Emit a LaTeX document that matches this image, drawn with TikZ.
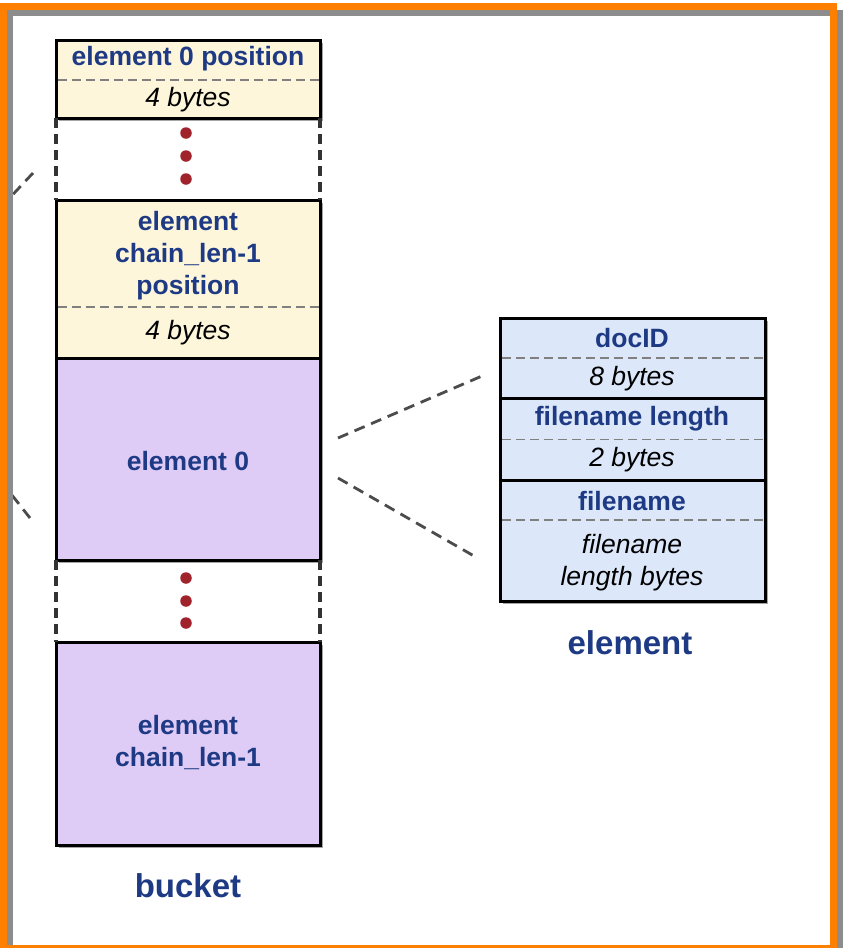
\documentclass[tikz,border=0pt]{standalone}
\usepackage{fontspec}
\setmainfont{Liberation Sans}
\usetikzlibrary{calc,shadows}
\definecolor{navy}{HTML}{1E3A84}
\definecolor{frameorange}{HTML}{FF7F00}
\definecolor{cream}{HTML}{FDF6DA}
\definecolor{lilac}{HTML}{DECCF6}
\definecolor{paleblue}{HTML}{DCE8FA}
\definecolor{dotred}{HTML}{A0222A}
\begin{document}
\begin{tikzpicture}[x=1pt,y=-1pt,
  box/.style={draw=black, line width=3pt, minimum width=264pt, inner sep=0pt, outer sep=0pt,
    drop shadow={shadow xshift=2.5pt, shadow yshift=-2.5pt, fill=black, opacity=0.35}},
  ybox/.style={box, fill=cream},
  pbox/.style={box, fill=lilac},
  bbox/.style={box, fill=paleblue},
  title/.style={font=\fontsize{26.5}{32}\selectfont\bfseries, text=navy, align=center, inner sep=0pt},
  sub/.style={font=\fontsize{26.5}{32}\selectfont\itshape, text=black, align=center, inner sep=0pt},
  label/.style={font=\fontsize{33}{40}\selectfont\bfseries, text=navy, inner sep=0pt},
  divline/.style={draw=black!50, line width=1.8pt, dash pattern=on 9pt off 5pt},
  gapline/.style={draw=black!80, line width=3.2pt, dash pattern=on 10pt off 6pt},
  conn/.style={draw=black!70, line width=2.8pt, dash pattern=on 11pt off 7pt},
  dot/.style={circle, fill=dotred, inner sep=0pt, minimum size=11.5pt}
]
\useasboundingbox (0,0) rectangle (846,948);
\clip (0,0) rectangle (846,948);
\fill[white] (0,0) rectangle (846,948);

% bucket column
\node[ybox, minimum height=78pt] (b0) at (188,79) {};
\node[ybox, minimum height=158pt] (b1) at (188,279) {};
\node[pbox, minimum height=202pt] (b2) at (188,459) {};
\node[pbox, minimum height=203pt] (b3) at (188,743.5) {};

\draw[divline] ($(b0.west)+(1.5,1)$) -- ($(b0.east)+(-1.5,1)$);
\draw[divline] ($(b1.west)+(1.5,28)$) -- ($(b1.east)+(-1.5,28)$);

\node[title] (t0) at (188,59) {element 0 position};
\node[sub] (s0) at (188,100) {4 bytes};
\node[title] (t1) at (188,256) {element\\chain\_len-1\\position};
\node[sub] (s1) at (188,333) {4 bytes};
\node[title] (t2) at (188,461) {element 0};
\node[title] (t3) at (188,743) {element\\chain\_len-1};

% gaps between bucket boxes
\draw[gapline] (b0.south west) -- (b1.north west);
\draw[gapline] (b0.south east) -- (b1.north east);
\draw[gapline] (b2.south west) -- (b3.north west);
\draw[gapline] (b2.south east) -- (b3.north east);
\node[dot] (d1) at (186,133) {};
\node[dot] (d2) at (186,156) {};
\node[dot] (d3) at (186,179) {};
\node[dot] (d4) at (186,578) {};
\node[dot] (d5) at (186,601) {};
\node[dot] (d6) at (186,623) {};

\node[label] (bucket) at (188,886) {bucket};

% element column
\node[bbox, minimum width=265pt, minimum height=80pt] (e0) at (632.5,358) {};
\node[bbox, minimum width=265pt, minimum height=82pt] (e1) at (632.5,439) {};
\node[bbox, minimum width=265pt, minimum height=121pt] (e2) at (632.5,540.5) {};

\draw[divline] ($(e0.west)+(1.5,0)$) -- ($(e0.east)+(-1.5,0)$);
\draw[divline] ($(e1.west)+(1.5,0.5)$) -- ($(e1.east)+(-1.5,0.5)$);
\draw[divline] ($(e2.west)+(1.5,-20.5)$) -- ($(e2.east)+(-1.5,-20.5)$);

\node[title] (u0) at (632,338) {docID};
\node[sub] (v0) at (632,379) {8 bytes};
\node[title] (u1) at (632,419) {filename length};
\node[sub] (v1) at (632,460) {2 bytes};
\node[title] (u2) at (632,501) {filename};
\node[sub] (v2) at (632,562.5) {filename\\length bytes};

\node[label] (element) at (630,643) {element};

% zoom connectors
\coordinate (z1a) at ($(b2.east)+(18,-21)$);
\coordinate (z1b) at ($(e0.west)+(-18,18)$);
\coordinate (z2a) at ($(b2.east)+(18,19)$);
\coordinate (z2b) at ($(e2.west)+(-26,15.5)$);
\draw[conn] (z1a) -- (z1b);
\draw[conn] (z2a) -- (z2b);

% partial connectors at the left edge
\coordinate (l1a) at (33,173);
\coordinate (l1b) at (4,204);
\coordinate (l2a) at (30,518);
\coordinate (l2b) at (4,485);
\draw[conn] (l1a) -- (l1b);
\draw[conn] (l2a) -- (l2b);

% frame with drop shadow
\draw[black!45, line width=6pt] (9.5,12.5) rectangle (839.5,954);
\draw[frameorange, line width=7pt] (3.5,6.5) rectangle (833.5,948);
\end{tikzpicture}
\end{document}
